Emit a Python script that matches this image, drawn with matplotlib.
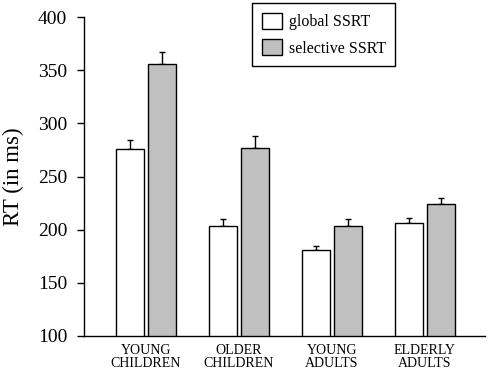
import numpy as np
import matplotlib.pyplot as plt

# data
groups = ["YOUNG\nCHILDREN", "OLDER\nCHILDREN", "YOUNG\nADULTS", "ELDERLY\nADULTS"]
global_ssrt = [276, 203, 181, 206]
global_err = [8, 7, 4, 5]
selective_ssrt = [356, 277, 203, 224]
selective_err = [11, 11, 7, 6]

plt.rcParams['font.family'] = ['Liberation Serif', 'DejaVu Serif']

fig = plt.figure(figsize=(4.9, 3.73), dpi=100)
ax = fig.add_axes([84 / 490, 37 / 373, 401 / 490, 319 / 373])

x = np.arange(len(groups))
w = 0.31
gap = 0.017

ax.bar(x - w / 2 - gap, global_ssrt, w, color='white', edgecolor='black',
       linewidth=1, label='global SSRT', zorder=2)
ax.bar(x + w / 2 + gap, selective_ssrt, w, color='#c0c0c0', edgecolor='black',
       linewidth=1, label='selective SSRT', zorder=2)

ax.errorbar(x - w / 2 - gap, global_ssrt, yerr=[np.zeros(4), global_err],
            fmt='none', ecolor='black', elinewidth=1, capsize=2, capthick=1, zorder=1)
ax.errorbar(x + w / 2 + gap, selective_ssrt, yerr=[np.zeros(4), selective_err],
            fmt='none', ecolor='black', elinewidth=1, capsize=2, capthick=1, zorder=1)

ax.set_ylim(100, 400)
ax.set_xlim(-0.667, 3.645)
ax.set_yticks(range(100, 401, 50))
ax.set_xticks(x)
ax.set_xticklabels(groups, fontsize=10, linespacing=1.0)
ax.tick_params(axis='x', length=0, pad=6)
ax.tick_params(axis='y', labelsize=14, length=5, width=1, pad=7)
ax.set_ylabel('RT (in ms)', fontsize=16.5, labelpad=10)

ax.spines['top'].set_visible(False)
ax.spines['right'].set_visible(False)
ax.spines['left'].set_linewidth(1)
ax.spines['bottom'].set_linewidth(1)

leg = ax.legend(loc='upper left', bbox_to_anchor=(252 / 490, 1 - 3 / 373),
                bbox_transform=fig.transFigure, fontsize=11.5, fancybox=False,
                framealpha=1, edgecolor='black', handlelength=1.25,
                handleheight=1.2, borderpad=0.6, labelspacing=0.55,
                handletextpad=0.45, borderaxespad=0)
leg.get_frame().set_linewidth(1)

fig.savefig('out.png', dpi=100)
